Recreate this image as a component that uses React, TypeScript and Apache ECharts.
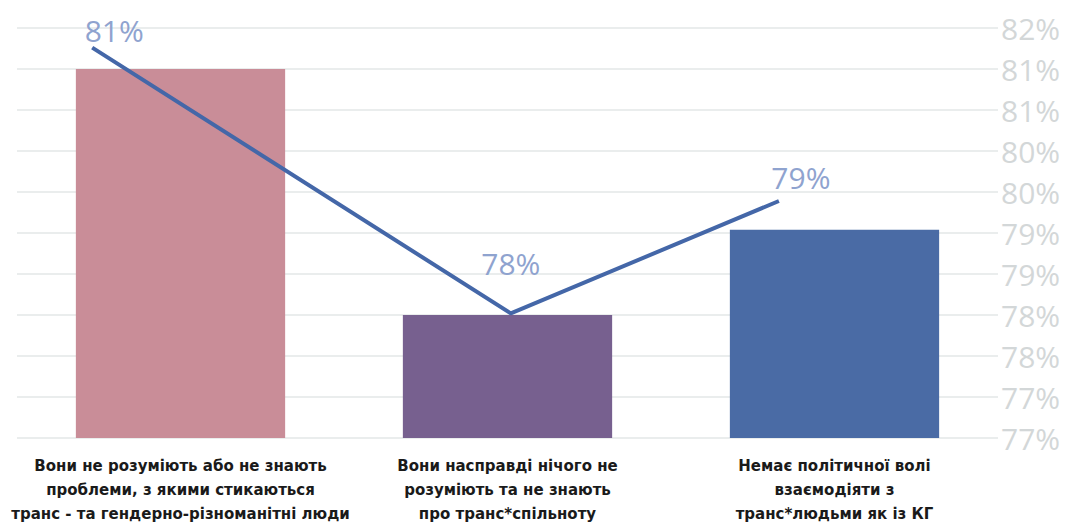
import React, { useEffect, useRef } from "react";
import * as echarts from "echarts";

const categories = [
  "Вони не розуміють або не знають\nпроблеми, з якими стикаються\nтранс - та гендерно-різноманітні люди",
  "Вони насправді нічого не\nрозуміють та не знають\nпро транс*спільноту",
  "Немає політичної волі\nвзаємодіяти з\nтранс*людьми як із КГ",
];
const barValues = [81.0, 78.0, 79.04];
const barColors = ["#C98D98", "#77608F", "#4A6BA5"];
const lineX = [0.23, 1.51, 2.33];
const lineValues = [81.26, 78.02, 79.39];
const lineLabelOffsets = [
  [22, 3],
  [0, -30],
  [22, -4],
];

export default function App() {
  const ref = useRef<HTMLDivElement>(null);
  useEffect(() => {
    document.body.style.margin = "0";
    const chart = echarts.init(ref.current!, null, { renderer: "svg" });
    chart.setOption({
      animation: false,
      backgroundColor: "#ffffff",
      grid: { left: 17, right: 70, top: 28, bottom: 88, containLabel: false, outerBoundsMode: "none" },
      xAxis: [
        {
          type: "category",
          data: categories,
          axisLine: { show: false },
          axisTick: { show: false },
          axisLabel: {
            interval: 0,
            margin: 16,
            color: "#1a1a1a",
            fontFamily: "DejaVu Sans",
            fontWeight: "bold",
            fontSize: 15,
            lineHeight: 24,
            align: "center",
          },
        },
        { type: "value", min: 0, max: 3, show: false },
      ],
      yAxis: {
        type: "value",
        position: "right",
        min: 76.5,
        max: 81.5,
        interval: 0.5,
        axisLine: { show: false },
        axisTick: { show: false },
        splitLine: { lineStyle: { color: "#E3E7E7", width: 1.5 } },
        axisLabel: {
          margin: 3,
          color: "#D3D7D8",
          fontFamily: "Open Sans",
          fontSize: 30,
          formatter: (v: number) => Math.round(v) + "%",
        },
      },
      series: [
        {
          type: "bar",
          barWidth: "64%",
          data: barValues.map((v, i) => ({ value: v, itemStyle: { color: barColors[i] } })),
        },
        {
          type: "line",
          xAxisIndex: 1,
          symbol: "circle",
          symbolSize: 0,
          showSymbol: true,
          itemStyle: { color: "#4467A8" },
          lineStyle: { color: "#4467A8", width: 4 },
          label: {
            show: true,
            position: "top",
            color: "#8FA3CF",
            fontFamily: "Open Sans",
            fontSize: 30,
            formatter: (p: any) => Math.round(p.value[1]) + "%",
          },
          data: lineX.map((x, i) => ({
            value: [x, lineValues[i]],
            label: { offset: lineLabelOffsets[i] },
          })),
        },
      ],
    });
    return () => chart.dispose();
  }, []);
  return <div ref={ref} style={{ width: 1068, height: 526 }} />;
}
